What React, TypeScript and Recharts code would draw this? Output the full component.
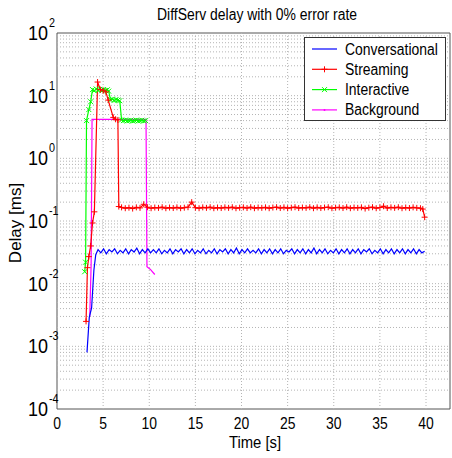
import React from "react";
import {
  LineChart,
  Line,
  XAxis,
  YAxis,
  ReferenceLine,
  ReferenceArea,
} from "recharts";

// Conversational (blue)
const convT = [
  3.25, 3.5, 3.75, 4.0, 4.2, 4.45,
  4.75, 5.05, 5.35, 5.65, 5.95, 6.25, 6.55, 6.85, 7.15, 7.45,
  7.75, 8.05, 8.35, 8.65, 8.95, 9.25, 9.55, 9.85, 10.15, 10.45,
  10.75, 11.05, 11.35, 11.65, 11.95, 12.25, 12.55, 12.85, 13.15, 13.45,
  13.75, 14.05, 14.35, 14.65, 14.95, 15.25, 15.55, 15.85, 16.15, 16.45,
  16.75, 17.05, 17.35, 17.65, 17.95, 18.25, 18.55, 18.85, 19.15, 19.45,
  19.75, 20.05, 20.35, 20.65, 20.95, 21.25, 21.55, 21.85, 22.15, 22.45,
  22.75, 23.05, 23.35, 23.65, 23.95, 24.25, 24.55, 24.85, 25.15, 25.45,
  25.75, 26.05, 26.35, 26.65, 26.95, 27.25, 27.55, 27.85, 28.15, 28.45,
  28.75, 29.05, 29.35, 29.65, 29.95, 30.25, 30.55, 30.85, 31.15, 31.45,
  31.75, 32.05, 32.35, 32.65, 32.95, 33.25, 33.55, 33.85, 34.15, 34.45,
  34.75, 35.05, 35.35, 35.65, 35.95, 36.25, 36.55, 36.85, 37.15, 37.45,
  37.75, 38.05, 38.35, 38.65, 38.95, 39.25, 39.55, 39.85,
];
const convV = [
  0.0008, 0.0029, 0.0041, 0.0165, 0.029, 0.035,
  0.031, 0.036, 0.030, 0.035, 0.032, 0.036, 0.030, 0.034, 0.031, 0.036,
  0.030, 0.035, 0.032, 0.037, 0.030, 0.035, 0.031, 0.036, 0.031, 0.035,
  0.031, 0.036, 0.030, 0.034, 0.031, 0.036, 0.030, 0.035, 0.032, 0.036,
  0.030, 0.035, 0.031, 0.036, 0.030, 0.034, 0.031, 0.036, 0.030, 0.034,
  0.031, 0.036, 0.030, 0.035, 0.032, 0.036, 0.030, 0.035, 0.031, 0.037,
  0.030, 0.035, 0.031, 0.036, 0.031, 0.034, 0.031, 0.036, 0.030, 0.035,
  0.031, 0.036, 0.030, 0.035, 0.031, 0.036, 0.030, 0.034, 0.032, 0.036,
  0.030, 0.035, 0.031, 0.036, 0.030, 0.035, 0.031, 0.037, 0.030, 0.035,
  0.031, 0.036, 0.030, 0.034, 0.031, 0.036, 0.030, 0.035, 0.031, 0.036,
  0.030, 0.035, 0.031, 0.036, 0.030, 0.035, 0.032, 0.036, 0.030, 0.034,
  0.031, 0.036, 0.030, 0.035, 0.031, 0.036, 0.030, 0.035, 0.031, 0.036,
  0.030, 0.035, 0.031, 0.036, 0.030, 0.035, 0.031, 0.033,
];

// Streaming (red)
const strT = [
  3.15, 3.3, 3.45, 3.65, 3.85, 4.05, 4.4, 4.7, 5.0, 5.3, 5.55, 6.1, 6.35, 6.6, 6.7,
  7.0, 7.4, 7.8, 8.2, 8.6, 9.0, 9.4, 9.8, 10.2, 10.6,
  11.0, 11.4, 11.8, 12.2, 12.6, 13.0, 13.4, 13.8, 14.2, 14.6,
  15.0, 15.4, 15.8, 16.2, 16.6, 17.0, 17.4, 17.8, 18.2, 18.6,
  19.0, 19.4, 19.8, 20.2, 20.6, 21.0, 21.4, 21.8, 22.2, 22.6,
  23.0, 23.4, 23.8, 24.2, 24.6, 25.0, 25.4, 25.8, 26.2, 26.6,
  27.0, 27.4, 27.8, 28.2, 28.6, 29.0, 29.4, 29.8, 30.2, 30.6,
  31.0, 31.4, 31.8, 32.2, 32.6, 33.0, 33.4, 33.8, 34.2, 34.6,
  35.0, 35.4, 35.8, 36.2, 36.6, 37.0, 37.4, 37.8, 38.2, 38.6,
  39.0, 39.4, 39.65, 39.85,
];
const strV = [
  0.0025, 0.018, 0.027, 0.04, 0.093, 0.14, 16.5, 12.5, 12, 11.5, 8.5, 4.5, 4.2, 4.1, 0.17,
  0.165, 0.160, 0.163, 0.158, 0.165, 0.162, 0.185, 0.166, 0.160, 0.164,
  0.162, 0.166, 0.160, 0.164, 0.161, 0.165, 0.160, 0.163, 0.166, 0.200,
  0.163, 0.160, 0.165, 0.162, 0.166, 0.160, 0.164, 0.161, 0.165, 0.162,
  0.166, 0.160, 0.163, 0.165, 0.161, 0.166, 0.160, 0.164, 0.162, 0.165,
  0.160, 0.164, 0.166, 0.161, 0.165, 0.160, 0.163, 0.166, 0.161, 0.164,
  0.162, 0.166, 0.160, 0.165, 0.161, 0.164, 0.166, 0.160, 0.163, 0.165,
  0.161, 0.166, 0.160, 0.164, 0.162, 0.165, 0.158, 0.163, 0.166, 0.160,
  0.164, 0.172, 0.161, 0.165, 0.162, 0.166, 0.160, 0.164, 0.161, 0.165,
  0.162, 0.160, 0.155, 0.115,
];

// Interactive (green)
const intT = [
  3.0, 3.1, 3.2, 3.45, 3.65, 3.85, 4.05, 4.25, 4.45, 4.65, 4.85, 5.05, 5.25, 5.45, 5.6,
  5.8, 6.0, 6.2, 6.4, 6.6, 6.8, 7.0, 7.2, 7.4, 7.6, 7.8, 8.0, 8.2, 8.4, 8.6,
  8.8, 9.0, 9.2, 9.4, 9.6,
];
const intV = [
  0.0155, 0.022, 4.0, 6.0, 8.0, 12.5, 12.0, 12.8, 12.2, 12.6, 12.0, 12.5, 12.1, 12.4, 11.8,
  8.6, 8.8, 8.4, 8.7, 8.5, 8.3, 4.1, 4.0, 4.05, 3.95, 4.0, 4.05, 3.95, 4.0, 4.05,
  3.95, 4.0, 4.05, 3.95, 4.0,
];

// Background (magenta)
const bgT = [3.55, 3.7, 3.8, 9.65, 9.75, 10.1, 10.6];
const bgV = [0.003, 0.02, 4.2, 4.2, 0.0187, 0.017, 0.014];

const xTicks = [0, 5, 10, 15, 20, 25, 30, 35, 40];
const yTicks = [1e-4, 1e-3, 1e-2, 1e-1, 1, 10, 100];
const yExp = ["-4", "-3", "-2", "-1", "0", "1", "2"];

const pts = (ts: number[], vs: number[]) => ts.map((t, i) => ({ t, v: vs[i] }));
const convData = pts(convT, convV);
const strData = pts(strT, strV);
const intData = pts(intT, intV);
const bgData = pts(bgT, bgV);

const yMinor = yTicks.slice(0, -1).flatMap((d) =>
  [2, 3, 4, 5, 6, 7, 8, 9].map((m) => m * d)
);

const FONT = "'Liberation Sans', Arial, Helvetica, sans-serif";
const GRID = "#b4b4b4";

const XTick = (props: any) => {
  const { x, y, payload } = props;
  return (
    <text
      transform={`translate(${x},${y + 12}) scale(0.87,1)`}
      textAnchor="middle"
      fontFamily={FONT}
      fontSize={16}
      fill="#000"
    >
      {payload.value}
    </text>
  );
};

const YTick = (props: any) => {
  const { x, y, payload, index } = props;
  const i = yTicks.indexOf(payload.value);
  return (
    <g transform={`translate(${x - 1},${y}) scale(0.9,1)`}>
      <text x={0} y={7} textAnchor="end" fontFamily={FONT} fontSize={20} fill="#000">
        10
      </text>
      <text x={1} y={-6} textAnchor="start" fontFamily={FONT} fontSize={12} fill="#000">
        {yExp[i >= 0 ? i : index]}
      </text>
    </g>
  );
};

const plus = (cx: number, cy: number, r = 3) =>
  `M${cx - r},${cy}h${2 * r}M${cx},${cy - r}v${2 * r}`;
const cross = (cx: number, cy: number, r = 2.5) =>
  `M${cx - r},${cy - r}l${2 * r},${2 * r}M${cx - r},${cy + r}l${2 * r},${-2 * r}`;

const PlusDot = (props: any) => {
  const { cx, cy, index } = props;
  if (cx == null || cy == null) return <g key={`p${index}`} />;
  return <path key={`p${index}`} d={plus(cx, cy)} stroke="#ff0000" strokeWidth={1} fill="none" />;
};

const CrossDot = (props: any) => {
  const { cx, cy, index } = props;
  if (cx == null || cy == null) return <g key={`c${index}`} />;
  return <path key={`c${index}`} d={cross(cx, cy)} stroke="#00ff00" strokeWidth={1} fill="none" />;
};

const legendItems = [
  { name: "Conversational", color: "#0000ff", mark: "" },
  { name: "Streaming", color: "#ff0000", mark: "plus" },
  { name: "Interactive", color: "#00ff00", mark: "cross" },
  { name: "Background", color: "#ff00ff", mark: "dot" },
];

const Overlay = () => (
  <svg
    width={452}
    height={458}
    style={{ position: "absolute", left: 0, top: 0, pointerEvents: "none" }}
  >
    <text
      transform="translate(257,20) scale(0.87,1)"
      textAnchor="middle"
      fontFamily={FONT}
      fontSize={16}
    >
      DiffServ delay with 0% error rate
    </text>
    <text
      transform="translate(255,448) scale(0.9,1)"
      textAnchor="middle"
      fontFamily={FONT}
      fontSize={16.5}
    >
      Time [s]
    </text>
    <text
      x={0}
      y={0}
      transform="translate(21,223) rotate(-90)"
      textAnchor="middle"
      fontFamily={FONT}
      fontSize="17px"
    >
      Delay [ms]
    </text>
    <rect x={304.5} y={37.5} width={141} height={83} fill="#fff" stroke="#333" />
    {legendItems.map((it, i) => {
      const cy = 49 + i * 20.3;
      return (
        <g key={it.name}>
          <line x1={312} x2={337} y1={cy} y2={cy} stroke={it.color} strokeWidth={1.2} />
          {it.mark === "plus" && <path d={plus(324.5, cy)} stroke={it.color} />}
          {it.mark === "cross" && <path d={cross(324.5, cy)} stroke={it.color} />}
          {it.mark === "dot" && <circle cx={324.5} cy={cy} r={1} fill={it.color} />}
          <text
            transform={`translate(345,${cy + 5.5}) scale(0.87,1)`}
            fontFamily={FONT}
            fontSize={16}
          >
            {it.name}
          </text>
        </g>
      );
    })}
  </svg>
);

export default function App() {
  return (
    <div style={{ position: "absolute", left: 0, top: 0, width: 452, height: 458, background: "#fff" }}>
      <LineChart width={452} height={458} margin={{ top: 33, right: 2, bottom: 19, left: 8 }}>
        <XAxis
          type="number"
          dataKey="t"
          domain={[0, 42.6]}
          ticks={xTicks}
          tick={<XTick />}
          tickLine={false}
          axisLine={false}
          height={30}
          allowDataOverflow
        />
        <YAxis
          type="number"
          dataKey="v"
          scale="log"
          domain={[1e-4, 100]}
          ticks={yTicks}
          tick={<YTick />}
          tickLine={false}
          axisLine={false}
          width={49}
          allowDataOverflow
        />
        {yMinor.concat(yTicks.slice(1, -1)).map((v) => (
          <ReferenceLine key={`h${v}`} y={v} stroke={GRID} strokeDasharray="1 2" />
        ))}
        {xTicks.slice(1).map((v) => (
          <ReferenceLine key={`v${v}`} x={v} stroke={GRID} strokeDasharray="1 2" />
        ))}
        <ReferenceArea
          x1={0}
          x2={42.6}
          y1={1e-4}
          y2={100}
          fill="none"
          fillOpacity={0}
          stroke="#555"
          strokeOpacity={1}
          ifOverflow="visible"
        />
        <Line
          data={bgData}
          dataKey="v"
          stroke="#ff00ff"
          strokeWidth={1.2}
          dot={false}
          isAnimationActive={false}
        />
        <Line
          data={intData}
          dataKey="v"
          stroke="#00ff00"
          strokeWidth={1.2}
          dot={<CrossDot />}
          isAnimationActive={false}
        />
        <Line
          data={strData}
          dataKey="v"
          stroke="#ff0000"
          strokeWidth={1.2}
          dot={<PlusDot />}
          isAnimationActive={false}
        />
        <Line
          data={convData}
          dataKey="v"
          stroke="#0000ff"
          strokeWidth={1.2}
          dot={false}
          isAnimationActive={false}
        />
      </LineChart>
      <Overlay />
    </div>
  );
}
